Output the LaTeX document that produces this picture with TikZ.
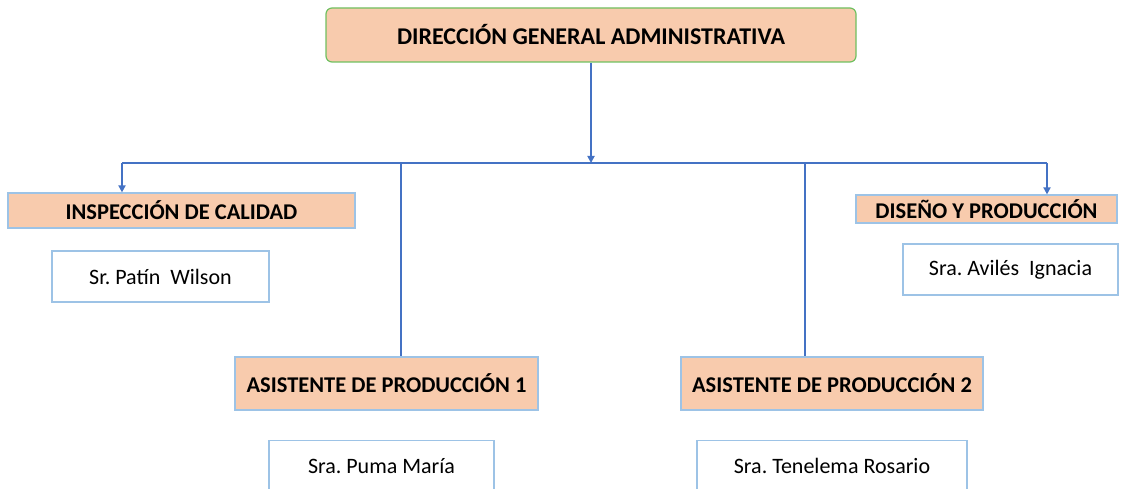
\documentclass[tikz,border=0pt]{standalone}
\usepackage{fontspec}
\setmainfont{Carlito}
\usetikzlibrary{arrows.meta}
\definecolor{durazno}{HTML}{F8CBAD}
\definecolor{bordeverde}{HTML}{70C060}
\definecolor{bordeazul}{HTML}{9DC3E6}
\definecolor{lineaazul}{HTML}{4472C4}

\tikzset{
  cargo/.style={draw=bordeazul, fill=durazno, line width=1.2pt, inner sep=0pt,
    font=\fontsize{22.5}{26}\selectfont\bfseries},
  persona/.style={draw=bordeazul, fill=white, line width=1.2pt, inner sep=0pt,
    font=\fontsize{22}{26}\selectfont},
  enlace/.style={draw=lineaazul, line width=2pt},
  flecha/.style={enlace, -{Triangle[length=7pt,width=7pt]}},
}

\begin{document}
\begin{tikzpicture}[x=1pt,y=-1pt]
  \useasboundingbox (0,0) rectangle (1134,489);

  % Direccion
  \node[cargo, draw=bordeverde, rounded corners=6pt, minimum width=530pt, minimum height=54pt,
    font=\fontsize{24}{28}\selectfont\bfseries] (dir) at (591,35) {DIRECCIÓN GENERAL ADMINISTRATIVA};

  % Cargos
  \node[cargo, minimum width=347pt, minimum height=35pt] (insp) at (181.5,210.5) {INSPECCIÓN DE CALIDAD};
  \node[cargo, minimum width=261pt, minimum height=28pt] (dise) at (986.5,209) {DISEÑO Y PRODUCCIÓN};
  \node[cargo, minimum width=303pt, minimum height=53pt] (asis1) at (386.5,383.5) {ASISTENTE DE PRODUCCIÓN 1};
  \node[cargo, minimum width=302pt, minimum height=53pt] (asis2) at (832,383.5) {ASISTENTE DE PRODUCCIÓN 2};

  % Personas
  \node[persona, minimum width=217pt, minimum height=51pt] (patin) at (160.5,276.5) {Sr.\ Patín\ \ Wilson};
  \node[persona, minimum width=215pt, minimum height=51pt] (aviles) at (1010.5,269.5) {Sra.\ Avilés\ \ Ignacia};
  \node[persona, minimum width=225pt, minimum height=60pt, anchor=north] (puma) at (381.5,440) {};
  \node[font=\fontsize{22}{26}\selectfont] (pumatxt) at (381.5,466) {Sra.\ Puma María};
  \node[persona, minimum width=270pt, minimum height=60pt, anchor=north] (tene) at (832,440) {};
  \node[font=\fontsize{22}{26}\selectfont] (tenetxt) at (832,466) {Sra.\ Tenelema Rosario};

  % Conectores
  \coordinate (centro) at (591,163);
  \coordinate (izq) at (122,163);
  \coordinate (der) at (1047,163);
  \coordinate (rama1) at (401,163);
  \coordinate (rama2) at (805,163);
  \draw[flecha] (dir.south) -- (centro);
  \draw[enlace] (izq) -- (der);
  \draw[flecha] (izq) -- (izq |- insp.north);
  \draw[flecha] (der) -- (der |- dise.north);
  \draw[enlace] (rama1) -- (rama1 |- asis1.north);
  \draw[enlace] (rama2) -- (rama2 |- asis2.north);
\end{tikzpicture}
\end{document}
